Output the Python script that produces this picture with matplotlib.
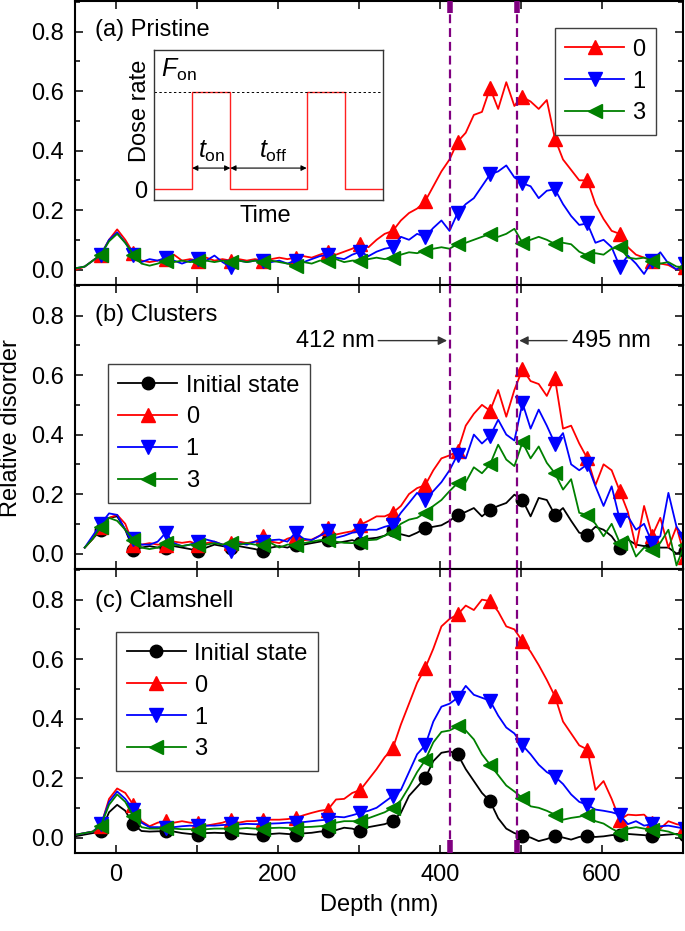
import numpy as np
import matplotlib
matplotlib.use("Agg")
import matplotlib.pyplot as plt
from matplotlib.ticker import MultipleLocator, FormatStrFormatter

plt.rcParams['font.family'] = ['Liberation Sans', 'DejaVu Sans']
plt.rcParams['font.size'] = 17
plt.rcParams['mathtext.fontset'] = 'custom'
plt.rcParams['mathtext.rm'] = 'Liberation Sans'
plt.rcParams['mathtext.it'] = 'Liberation Sans:italic'

nan = np.nan
depth = np.arange(-48, 703, 10)   # nm

# (a) Pristine
a0 = [0.00, 0.01, 0.03, 0.05, 0.10, 0.135, 0.10, 0.055, 0.03, 0.025,
      0.03, 0.035, 0.05, 0.03, 0.035, 0.03, 0.04, 0.03, 0.035, 0.03,
      0.035, 0.03, 0.035, 0.03, 0.035, 0.04, 0.035, 0.04, 0.045, 0.04,
      0.05, 0.06, 0.05, 0.06, 0.07, 0.085, 0.075, 0.10, 0.12, 0.13,
      0.165, 0.19, 0.205, 0.23, 0.28, 0.33, 0.37, 0.43, 0.46, 0.52,
      0.53, 0.61, 0.54, 0.63, 0.55, 0.58, 0.565, 0.54, 0.57, 0.44,
      0.37, 0.335, 0.30, 0.30, 0.22, 0.17, 0.13, 0.12, 0.075, 0.05,
      0.04, 0.03, 0.02, 0.015, 0.0, 0.01]
a1 = [0.005, 0.01, 0.03, 0.05, 0.10, 0.125, 0.09, 0.05, 0.025, 0.035,
      0.03, 0.04, 0.03, 0.02, 0.03, 0.035, 0.03, 0.047, 0.025, 0.008,
      0.03, 0.025, 0.03, 0.03, 0.025, 0.03, 0.02, 0.03, 0.025, 0.035,
      0.045, 0.05, 0.04, 0.035, 0.05, 0.06, 0.045, 0.06, 0.07, 0.075,
      0.11, 0.10, 0.12, 0.11, 0.14, 0.165, 0.13, 0.19, 0.22, 0.24,
      0.28, 0.32, 0.33, 0.35, 0.31, 0.29, 0.28, 0.24, 0.265, 0.27,
      0.22, 0.18, 0.15, 0.155, 0.09, 0.10, 0.075, 0.01, 0.047, 0.02,
      -0.015, 0.03, 0.058, 0.02, 0.0, 0.02]
a3 = [0.005, 0.01, 0.03, 0.05, 0.095, 0.12, 0.09, 0.05, 0.02, 0.013,
      0.02, 0.03, 0.025, 0.03, 0.025, 0.03, 0.03, 0.025, 0.03, 0.025,
      0.03, 0.025, 0.03, 0.025, 0.03, 0.025, 0.02, 0.013, 0.025, 0.02,
      0.03, 0.03, 0.035, 0.025, 0.03, 0.03, 0.035, 0.04, 0.035, 0.04,
      0.05, 0.058, 0.055, 0.064, 0.07, 0.075, 0.07, 0.086, 0.09, 0.10,
      0.11, 0.12, 0.11, 0.12, 0.137, 0.09, 0.10, 0.11, 0.10, 0.086,
      0.09, 0.085, 0.06, 0.047, 0.055, 0.05, 0.07, 0.075, 0.04, 0.036,
      0.04, 0.03, 0.02, 0.025, 0.01, 0.008]

# (b) Clusters
bi = [nan, 0.02, 0.05, 0.08, 0.12, 0.125, 0.08, 0.013, 0.02, 0.025,
      0.02, 0.02, 0.025, 0.02, 0.015, 0.008, 0.02, 0.03, 0.025, 0.02,
      0.025, 0.02, 0.015, 0.008, 0.02, 0.025, 0.02, 0.03, 0.03, 0.035,
      0.04, 0.047, 0.035, 0.04, 0.045, 0.036, 0.05, 0.053, 0.06, 0.08,
      0.065, 0.058, 0.07, 0.086, 0.09, 0.095, 0.11, 0.13, 0.14, 0.153,
      0.125, 0.148, 0.16, 0.17, 0.198, 0.18, 0.125, 0.187, 0.18, 0.13,
      0.153, 0.11, 0.07, 0.064, 0.09, 0.08, 0.058, 0.02, 0.047, 0.03,
      0.025, 0.03, 0.02, 0.02, 0.0, 0.01]
b0 = [nan, 0.02, 0.05, 0.09, 0.12, 0.13, 0.10, 0.03, 0.03, 0.035,
      0.03, 0.03, 0.04, 0.036, 0.04, 0.03, 0.035, 0.04, 0.03, 0.035,
      0.04, 0.035, 0.04, 0.058, 0.04, 0.035, 0.05, 0.058, 0.045, 0.047,
      0.06, 0.086, 0.064, 0.07, 0.075, 0.097, 0.11, 0.125, 0.125, 0.137,
      0.16, 0.20, 0.22, 0.23, 0.28, 0.32, 0.33, 0.344, 0.43, 0.47,
      0.50, 0.48, 0.55, 0.46, 0.55, 0.62, 0.58, 0.57, 0.53, 0.59,
      0.42, 0.43, 0.37, 0.32, 0.23, 0.30, 0.28, 0.21, 0.14, 0.02,
      0.16, 0.06, 0.12, 0.02, 0.09, -0.01]
b1 = [nan, 0.02, 0.06, 0.10, 0.135, 0.13, 0.08, 0.05, 0.03, 0.03,
      0.04, 0.07, 0.035, 0.025, 0.03, 0.04, 0.047, 0.04, 0.03, 0.008,
      0.035, 0.03, 0.04, 0.04, 0.045, 0.047, 0.04, 0.07, 0.05, 0.045,
      0.06, 0.075, 0.053, 0.06, 0.07, 0.075, 0.08, 0.08, 0.09, 0.097,
      0.137, 0.17, 0.204, 0.18, 0.21, 0.24, 0.28, 0.333, 0.32, 0.40,
      0.37, 0.395, 0.45, 0.40, 0.38, 0.506, 0.42, 0.484, 0.43, 0.37,
      0.405, 0.30, 0.28, 0.30, 0.226, 0.16, 0.226, 0.114, 0.125, 0.08,
      0.10, 0.036, 0.058, 0.204, 0.09, 0.05]
b3 = [nan, 0.02, 0.05, 0.09, 0.12, 0.11, 0.08, 0.047, 0.02, 0.015,
      0.02, 0.036, 0.03, 0.025, 0.03, 0.03, 0.03, 0.035, 0.03, 0.036,
      0.03, 0.035, 0.03, 0.03, 0.035, 0.02, 0.03, 0.03, 0.035, 0.04,
      0.045, 0.047, 0.04, 0.036, 0.035, 0.04, 0.045, 0.047, 0.06, 0.07,
      0.10, 0.114, 0.12, 0.137, 0.16, 0.18, 0.21, 0.237, 0.24, 0.29,
      0.27, 0.30, 0.366, 0.316, 0.294, 0.374, 0.32, 0.36, 0.305, 0.27,
      0.215, 0.25, 0.137, 0.13, 0.10, 0.058, 0.10, 0.036, 0.058, -0.01,
      0.02, 0.013, 0.036, 0.08, -0.04, 0.03]

# (c) Clamshell
ci = [0.005, 0.01, 0.015, 0.021, 0.085, 0.11, 0.09, 0.044, 0.022, 0.02,
      0.021, 0.021, 0.02, 0.015, 0.012, 0.01, 0.015, 0.016, 0.015, 0.016,
      0.015, 0.012, 0.01, 0.01, 0.012, 0.014, 0.012, 0.01, 0.014, 0.016,
      0.02, 0.021, 0.025, 0.033, 0.03, 0.021, 0.035, 0.04, 0.045, 0.055,
      0.083, 0.14, 0.17, 0.20, 0.257, 0.285, 0.29, 0.28, 0.23, 0.19,
      0.15, 0.122, 0.065, 0.03, 0.015, 0.005, 0.0, -0.012, -0.005, 0.005,
      0.0, -0.007, 0.002, 0.005, 0.002, 0.004, 0.008, 0.01, 0.012, 0.01,
      0.008, 0.005, 0.008, 0.01, 0.012, 0.01]
c0 = [0.01, 0.015, 0.02, 0.04, 0.13, 0.165, 0.15, 0.11, 0.055, 0.038,
      0.05, 0.055, 0.05, 0.055, 0.05, 0.05, 0.04, 0.045, 0.05, 0.06,
      0.05, 0.055, 0.055, 0.06, 0.06, 0.06, 0.062, 0.066, 0.075, 0.083,
      0.09, 0.094, 0.128, 0.13, 0.15, 0.16, 0.195, 0.23, 0.27, 0.30,
      0.38, 0.45, 0.52, 0.57, 0.635, 0.71, 0.735, 0.75, 0.78, 0.765,
      0.80, 0.795, 0.76, 0.71, 0.70, 0.66, 0.625, 0.58, 0.53, 0.475,
      0.39, 0.35, 0.31, 0.296, 0.16, 0.19, 0.13, 0.06, 0.077, 0.075,
      0.077, 0.05, 0.03, 0.055, 0.045, 0.04]
c1 = [0.01, 0.015, 0.02, 0.044, 0.12, 0.155, 0.13, 0.094, 0.05, 0.035,
      0.035, 0.033, 0.035, 0.038, 0.04, 0.038, 0.04, 0.04, 0.042, 0.044,
      0.044, 0.046, 0.045, 0.045, 0.047, 0.048, 0.05, 0.05, 0.052, 0.055,
      0.058, 0.06, 0.07, 0.068, 0.075, 0.083, 0.09, 0.10, 0.12, 0.14,
      0.16, 0.22, 0.28, 0.31, 0.39, 0.44, 0.45, 0.47, 0.51, 0.48,
      0.47, 0.46, 0.41, 0.37, 0.35, 0.31, 0.28, 0.245, 0.22, 0.205,
      0.18, 0.145, 0.12, 0.11, 0.094, 0.09, 0.085, 0.077, 0.045, 0.055,
      0.04, 0.045, 0.038, 0.04, 0.035, 0.03]
c3 = [0.01, 0.015, 0.02, 0.04, 0.11, 0.145, 0.12, 0.072, 0.035, 0.03,
      0.03, 0.033, 0.03, 0.028, 0.028, 0.027, 0.028, 0.03, 0.03, 0.03,
      0.03, 0.032, 0.03, 0.03, 0.032, 0.033, 0.032, 0.03, 0.035, 0.036,
      0.038, 0.04, 0.05, 0.055, 0.055, 0.055, 0.065, 0.075, 0.085, 0.10,
      0.125, 0.17, 0.22, 0.26, 0.32, 0.355, 0.36, 0.374, 0.36, 0.33,
      0.28, 0.245, 0.21, 0.175, 0.155, 0.133, 0.105, 0.10, 0.09, 0.077,
      0.06, 0.066, 0.07, 0.077, 0.055, 0.047, 0.03, 0.016, 0.03, 0.035,
      0.03, 0.027, 0.025, 0.02, 0.01, 0.005]

labels = ['Initial state', '0', '1', '3']
colors = ['black', 'red', 'blue', 'green']
markers = ['o', '^', 'v', '<']
marks_nm = [412, 495]

# inset: pulsed dose rate
pulse_t = [0, 1, 1, 2, 2, 4, 4, 5, 5, 6]
pulse_f = [0, 0, 1, 1, 0, 0, 1, 1, 0, 0]

fig = plt.figure(figsize=(6.85, 9.31), dpi=100)
L, W, H = 75 / 685, 608 / 685, 284 / 931
ax_a = fig.add_axes([L, 1 - 285 / 931, W, H])
ax_b = fig.add_axes([L, 1 - 569 / 931, W, H])
ax_c = fig.add_axes([L, 1 - 853 / 931, W, H])

panels = [
    (ax_a, [None, a0, a1, a3], '(a) Pristine', 0.898),
    (ax_b, [bi, b0, b1, b3], '(b) Clusters', 0.894),
    (ax_c, [ci, c0, c1, c3], '(c) Clamshell', 0.888),
]

ylo, yhi = -0.052, 0.903
for ax, series, title, ty in panels:
    for y, lab, col, mk in zip(series, labels, colors, markers):
        if y is None:
            continue
        ms = 9 if mk == 'o' else 10
        ax.plot(depth, y, color=col, lw=1.3, marker=mk, ms=ms,
                markevery=(3, 4), label=lab)
    for xm in marks_nm:
        ax.axvline(xm, color='#800080', lw=1.6, dashes=(4, 2.2), zorder=3)
    ax.set_xlim(-50, 700)
    ax.set_ylim(ylo, yhi)
    ax.xaxis.set_major_locator(MultipleLocator(200))
    ax.xaxis.set_minor_locator(MultipleLocator(100))
    ax.yaxis.set_major_locator(MultipleLocator(0.2))
    ax.yaxis.set_minor_locator(MultipleLocator(0.1))
    ax.yaxis.set_major_formatter(FormatStrFormatter('%.1f'))
    ax.tick_params(which='both', direction='in', top=True, right=True,
                   width=1.1, pad=8)
    ax.tick_params(which='major', length=6)
    ax.tick_params(axis='y', which='minor', length=3.5)
    ax.tick_params(axis='x', which='minor', length=6)
    for s in ax.spines.values():
        s.set_linewidth(1.5)
    ax.text(0.033, ty, title, transform=ax.transAxes, va='center', ha='left')

ax_a.tick_params(labelbottom=False)
ax_b.tick_params(labelbottom=False)

# thick end marks of the reference lines
for xm in marks_nm:
    ax_a.plot([xm, xm], [yhi - 0.04, yhi], color='#800080', lw=4,
              solid_capstyle='butt', zorder=4, clip_on=False)
    ax_c.plot([xm, xm], [ylo, ylo + 0.044], color='#800080', lw=4,
              solid_capstyle='butt', zorder=4, clip_on=False)

leg_kw = dict(numpoints=1, handlelength=2.5, handletextpad=0.35,
              labelspacing=0.42, borderpad=0.45, borderaxespad=0,
              fancybox=False, edgecolor='#404040', framealpha=1)
lg = ax_a.legend(loc='upper right', bbox_to_anchor=(0.956, 0.905), **leg_kw)
lg.get_frame().set_linewidth(1.0)
lg = ax_b.legend(loc='upper left', bbox_to_anchor=(0.054, 0.722), **leg_kw)
lg.get_frame().set_linewidth(1.0)
lg = ax_c.legend(loc='upper left', bbox_to_anchor=(0.0674, 0.778), **leg_kw)
lg.get_frame().set_linewidth(1.0)

# depth annotations in panel (b)
ax_b.annotate('', xy=(409, 0.716), xytext=(324, 0.716),
              arrowprops=dict(arrowstyle='-|>', color='#333333', lw=1,
                              mutation_scale=13, shrinkA=0, shrinkB=0))
ax_b.text(320, 0.716, '412 nm', ha='right', va='center')
ax_b.annotate('', xy=(498, 0.716), xytext=(557, 0.716),
              arrowprops=dict(arrowstyle='-|>', color='#333333', lw=1,
                              mutation_scale=13, shrinkA=0, shrinkB=0))
ax_b.text(563, 0.716, '495 nm', ha='left', va='center')

ax_c.set_xlabel('Depth (nm)', labelpad=6)
fig.text(11 / 685, 1 - 428 / 931, 'Relative disorder', rotation=90,
         ha='center', va='center')

# inset
ins = fig.add_axes([154 / 685, 1 - 200 / 931, 229 / 685, 150 / 931])
ins.plot(pulse_t, pulse_f, color='#ff2020', lw=1)
ins.plot([0, 6], [1, 1], color='black', lw=0.7, dashes=(2.5, 2.5))
ins.set_xlim(0, 6)
ins.set_ylim(-0.113, 1.433)
ins.set_xticks([])
ins.set_yticks([0])
ins.set_yticklabels(['0'])
ins.tick_params(length=0, pad=5)
for s in ins.spines.values():
    s.set_linewidth(1.0)
    s.set_color('#333333')
ins.annotate('', xy=(1, 0.216), xytext=(2, 0.216),
             arrowprops=dict(arrowstyle='<|-|>', color='black', lw=0.8,
                             mutation_scale=8, shrinkA=0, shrinkB=0))
ins.annotate('', xy=(2, 0.216), xytext=(4, 0.216),
             arrowprops=dict(arrowstyle='<|-|>', color='black', lw=0.8,
                             mutation_scale=8, shrinkA=0, shrinkB=0))
ins.text(1.52, 0.32, r'$t_{\rm on}$', ha='center', va='baseline', fontsize=18)
ins.text(3.13, 0.32, r'$t_{\rm off}$', ha='center', va='baseline', fontsize=18)
ins.text(0.18, 1.155, r'$F_{\rm on}$', ha='left', va='baseline', fontsize=18)
ins.text(-0.061, 0.593, 'Dose rate', rotation=90, ha='center', va='center',
         transform=ins.transAxes)
ins.text(0.485, -0.03, 'Time', ha='center', va='top', transform=ins.transAxes)

fig.savefig('out.png', dpi=100)
